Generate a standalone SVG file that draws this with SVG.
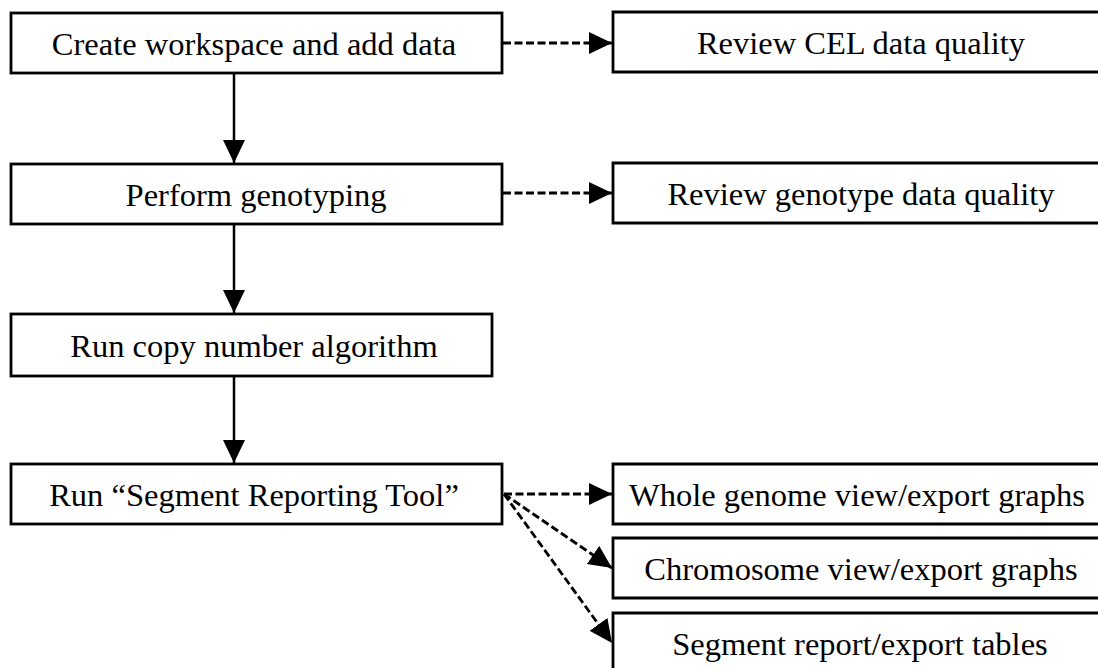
<svg xmlns="http://www.w3.org/2000/svg" width="1098" height="668" viewBox="0 0 1098 668">
<style>
.box{fill:#fff;stroke:#000;stroke-width:2.8}
.open{fill:#fff;stroke:#000;stroke-width:2.8}
.lbl{font-family:"Liberation Serif","Times New Roman",serif;font-size:32.5px;fill:#000;text-anchor:middle}
.solid{stroke:#000;stroke-width:2.5;fill:none}
.dash{stroke:#000;stroke-width:2.8;fill:none;stroke-dasharray:8 3.5}
</style>
<defs>
<marker id="ah" markerUnits="userSpaceOnUse" markerWidth="23" markerHeight="22" viewBox="0 0 23 22" refX="23" refY="11" orient="auto">
<path d="M0,0 L23,11 L0,22 Z" fill="#000"/>
</marker>
</defs>
<rect width="1098" height="668" fill="#fff"/>
<g id="n1"><rect class="box" x="11" y="13" width="491" height="60"/><text class="lbl" x="254" y="55">Create workspace and add data</text></g>
<g id="n2"><rect class="box" x="11" y="164" width="491" height="60"/><text class="lbl" x="256" y="206">Perform genotyping</text></g>
<g id="n3"><rect class="box" x="11" y="314" width="481" height="62"/><text class="lbl" x="254" y="357">Run copy number algorithm</text></g>
<g id="n4"><rect class="box" x="11" y="464" width="491" height="60"/><text class="lbl" x="254" y="506">Run “Segment Reporting Tool”</text></g>
<g id="r1"><path class="open" d="M1098,12 H613 V72 H1098"/><text class="lbl" x="861" y="54">Review CEL data quality</text></g>
<g id="r2"><path class="open" d="M1098,163 H613 V223 H1098"/><text class="lbl" x="861" y="205">Review genotype data quality</text></g>
<g id="r3"><path class="open" d="M1098,464 H613 V524 H1098"/><text class="lbl" x="857" y="506">Whole genome view/export graphs</text></g>
<g id="r4"><path class="open" d="M1098,538 H613 V598 H1098"/><text class="lbl" x="861" y="580">Chromosome view/export graphs</text></g>
<g id="r5"><path class="open" d="M1098,613 H613 V668"/><text class="lbl" x="860" y="655">Segment report/export tables</text></g>
<g id="connectors">
<line class="solid" x1="234" y1="73" x2="234" y2="163" marker-end="url(#ah)"/>
<line class="solid" x1="234" y1="224" x2="234" y2="313" marker-end="url(#ah)"/>
<line class="solid" x1="234" y1="376" x2="234" y2="463" marker-end="url(#ah)"/>
<line class="dash" x1="503" y1="43" x2="612" y2="43" marker-end="url(#ah)"/>
<line class="dash" x1="503" y1="193" x2="612" y2="193" marker-end="url(#ah)"/>
<line class="dash" x1="504" y1="494" x2="612" y2="494" marker-end="url(#ah)"/>
<line class="dash" x1="504" y1="494" x2="612" y2="568" marker-end="url(#ah)"/>
<line class="dash" x1="504" y1="494" x2="612" y2="643" marker-end="url(#ah)"/>
</g>
</svg>
